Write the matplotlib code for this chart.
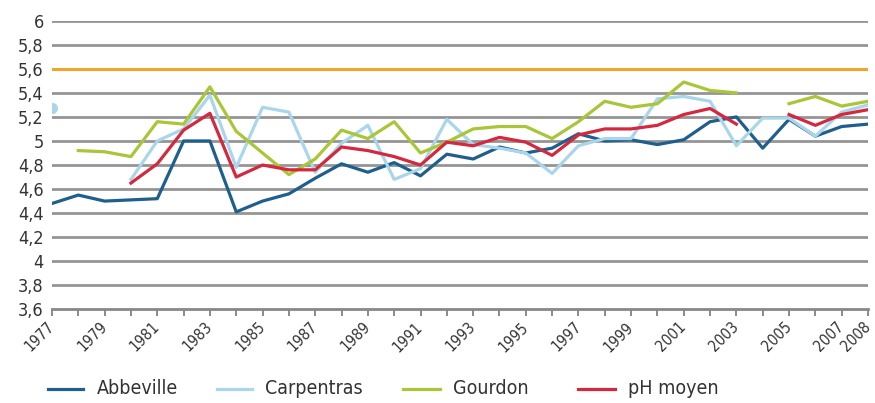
import matplotlib

matplotlib.use("Agg")

import matplotlib.pyplot as plt
from matplotlib.lines import Line2D
import numpy as np

nan = np.nan
years = list(range(1977, 2009))

abbeville = [4.48, 4.55, 4.50, 4.51, 4.52, 5.00, 5.00, 4.41, 4.50, 4.56,
             4.69, 4.81, 4.74, 4.82, 4.71, 4.89, 4.85, 4.95, 4.90, 4.94,
             5.06, 5.00, 5.01, 4.97, 5.01, 5.16, 5.20, 4.94, 5.18, 5.04,
             5.12, 5.14]
carpentras = [5.27, nan, nan, 4.68, 5.00, 5.10, 5.38, 4.78, 5.28, 5.24,
              4.74, 4.98, 5.13, 4.68, 4.77, 5.18, 4.97, 4.94, 4.90, 4.73,
              4.96, 5.02, 5.02, 5.35, 5.37, 5.33, 4.96, 5.19, 5.19, 5.04,
              5.24, 5.30]
gourdon = [nan, 4.92, 4.91, 4.87, 5.16, 5.14, 5.45, 5.08, 4.90, 4.72,
           4.85, 5.09, 5.02, 5.16, 4.90, 4.99, 5.10, 5.12, 5.12, 5.02,
           5.16, 5.33, 5.28, 5.31, 5.49, 5.42, 5.40, nan, 5.31, 5.37,
           5.29, 5.33]
ph_moyen = [nan, nan, nan, 4.65, 4.81, 5.09, 5.23, 4.70, 4.80, 4.76,
            4.76, 4.95, 4.92, 4.87, 4.80, 4.99, 4.96, 5.03, 4.99, 4.88,
            5.05, 5.10, 5.10, 5.13, 5.22, 5.27, 5.14, nan, 5.22, 5.13,
            5.22, 5.26]
reference_ph = 5.6

series = [
    ("Abbeville", abbeville, "#1f5f8e"),
    ("Carpentras", carpentras, "#a9d6ea"),
    ("Gourdon", gourdon, "#a9c639"),
    ("pH moyen", ph_moyen, "#d5283f"),
]

plt.rcParams["font.family"] = ["Liberation Sans Narrow", "DejaVu Sans"]
plt.rcParams["font.stretch"] = "condensed"

W, H = 875, 403
fig = plt.figure(figsize=(W / 100, H / 100), dpi=100)
ax = fig.add_axes([0.0594, 0.2325, 0.9326, 0.7161])

yticks = np.arange(3.6, 6.01, 0.2)
for y in yticks[1:]:
    if abs(y - reference_ph) > 1e-6:
        ax.axhline(y, color="#959595", linewidth=2.0, zorder=1)
ax.axhline(reference_ph, color="#f0a52a", linewidth=2.2, zorder=1)

for name, values, color in series:
    values = np.array(values, dtype=float)
    ax.plot(years, values, color=color, linewidth=2.3, label=name, zorder=3)
    # isolated points (no neighbours) shown as a dot
    for i, v in enumerate(values):
        if np.isnan(v):
            continue
        left = i == 0 or np.isnan(values[i - 1])
        right = i == len(values) - 1 or np.isnan(values[i + 1])
        if left and right:
            ax.plot(years[i], v, "o", color=color, markersize=7, zorder=3)

ax.set_xlim(1977, 2008)
ax.set_ylim(3.6, 6.0)
ax.set_yticks(yticks)
ax.set_yticklabels([f"{t:g}".replace(".", ",") for t in np.round(yticks, 1)],
                   fontsize=13, color="#333333")
ax.tick_params(axis="y", length=0, pad=6)

label_years = list(range(1977, 2008, 2)) + [2008]
ax.set_xticks(years)
ax.set_xticklabels([str(y) if y in label_years else "" for y in years],
                   rotation=45, ha="right", va="center", rotation_mode="anchor",
                   fontsize=11, color="#333333")
ax.tick_params(axis="x", length=5, width=1.2, color="#777777", pad=6)

for side in ["left", "right", "top"]:
    ax.spines[side].set_visible(False)
ax.spines["bottom"].set_color("#888888")
ax.spines["bottom"].set_linewidth(2.0)

# legend row below the axes, placed like the original
legend_x = [(48, 83, 97), (217, 252, 265), (403, 440, 453), (578, 615, 628)]
legend_y = 1 - 389 / H
for (name, _, color), (x0, x1, xt) in zip(series, legend_x):
    fig.add_artist(Line2D([x0 / W, x1 / W], [legend_y, legend_y],
                          color=color, linewidth=2.3))
    fig.text(xt / W, legend_y, name, fontsize=14, color="#333333",
             va="center", ha="left")

fig.savefig("out.png", dpi=100)
